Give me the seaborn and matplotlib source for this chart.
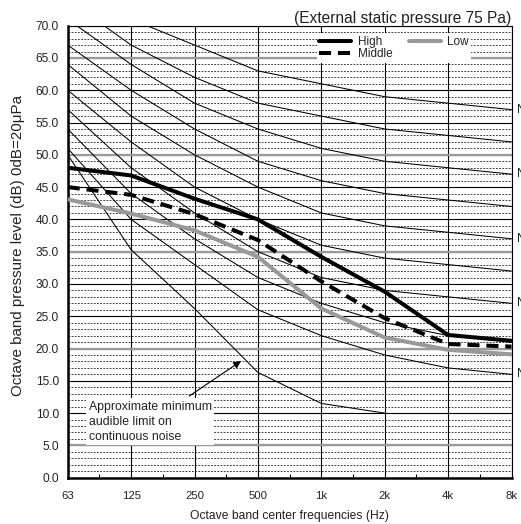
import numpy as np
import pandas as pd
import matplotlib
matplotlib.use("Agg")
import matplotlib.pyplot as plt
import seaborn as sns

# ---------------- data ----------------
freq_labels = ["63", "125", "250", "500", "1k", "2k", "4k", "8k"]

high = [48.0, 46.8, 43.2, 40.0, 34.2, 28.8, 22.1, 21.2]
middle = [45.0, 43.8, 40.8, 36.8, 30.4, 24.7, 20.7, 20.3]
low = [43.1, 40.9, 38.3, 34.2, 26.2, 21.7, 19.8, 19.1]

nc_names = ["NC-60", "NC-55", "NC-50", "NC-45", "NC-40", "NC-35", "NC-30", "NC-25", "NC-20"]
nc_60 = [77, 71, 67, 63, 61, 59, 58, 57]
nc_55 = [74, 67, 62, 58, 56, 54, 53, 52]
nc_50 = [71, 64, 58, 54, 51, 49, 48, 47]
nc_45 = [67, 60, 54, 49, 46, 44, 43, 42]
nc_40 = [64, 56, 50, 45, 41, 39, 38, 37]
nc_35 = [60, 52, 45, 40, 36, 34, 33, 32]
nc_30 = [57, 48, 41, 35, 31, 29, 28, 27]
nc_25 = [54, 44, 37, 31, 27, 24, 22, 21]
nc_20 = [51, 40, 33, 26, 22, 19, 17, 16]
nc_values = [nc_60, nc_55, nc_50, nc_45, nc_40, nc_35, nc_30, nc_25, nc_20]
nc_labelled = ["NC-60", "NC-50", "NC-40", "NC-30", "NC-20"]

audible_labels = ["63", "125", "250", "500", "1k", "2k"]
audible = [50.0, 35.3, 26.2, 16.3, 11.5, 10.0]

series_names = ["High", "Middle", "Low"]
title_text = "(External static pressure 75 Pa)"
note_text = "Approximate minimum\naudible limit on\ncontinuous noise"

# ---------------- style ----------------
sns.set_theme(style="white")
plt.rcParams["font.family"] = ["Liberation Sans", "DejaVu Sans"]
plt.rcParams["axes.unicode_minus"] = False

TXT = "#222222"

fig = plt.figure(figsize=(5.21, 5.24), dpi=100)
ax = fig.add_axes([0.130, 0.0884, 0.8518, 0.8626])

xpos = {lab: i for i, lab in enumerate(freq_labels)}

# grid
ax.set_xlim(0, 7)
ax.set_ylim(0, 70)
ax.set_yticks(np.arange(0, 70.1, 5))
ax.set_yticks(np.arange(0, 70.1, 1), minor=True)
ax.set_xticks(range(len(freq_labels)))
ax.set_xticks(np.arange(0.5, 7, 1), minor=True)
ax.grid(which="minor", axis="y", color="#222222", linestyle=(0, (2.2, 1.6)), linewidth=0.6, zorder=0)
ax.grid(which="major", axis="y", color="black", linestyle="-", linewidth=0.8, zorder=0.5)
ax.grid(which="major", axis="x", color="black", linestyle="-", linewidth=0.8, zorder=0.5)
for yv in [5, 20, 35, 50, 65]:
    ax.axhline(yv, color="#9a9a9a", linewidth=1.6, zorder=0.6)
ax.set_axisbelow(True)

# NC curves
for name, vals in zip(nc_names, nc_values):
    d = pd.DataFrame({"x": [xpos[f] for f in freq_labels], "y": vals})
    sns.lineplot(data=d, x="x", y="y", ax=ax, color="black", linewidth=0.75, legend=False, zorder=1)
    if name in nc_labelled:
        ax.text(7.09, vals[-1], name, fontsize=8.6, va="center", ha="left", color=TXT, clip_on=False)

# audible limit curve
da = pd.DataFrame({"x": [xpos[f] for f in audible_labels], "y": audible})
sns.lineplot(data=da, x="x", y="y", ax=ax, color="black", linewidth=0.75, legend=False, zorder=1)

# series
styles = {"High": dict(color="black", lw=2.9),
          "Middle": dict(color="black", lw=2.9),
          "Low": dict(color="#999999", lw=2.9)}
for name, vals in zip(series_names, [high, middle, low]):
    d = pd.DataFrame({"x": range(len(freq_labels)), "y": vals})
    sns.lineplot(data=d, x="x", y="y", ax=ax, color=styles[name]["color"],
                 linewidth=styles[name]["lw"], label=name, zorder=3)
    if name == "Middle":
        ax.lines[-1].set_dashes([3.0, 1.7])

leg = ax.legend(loc="upper left", bbox_to_anchor=(0.561, 0.983), ncol=2, fontsize=8.5,
                frameon=True, fancybox=False, edgecolor="none", facecolor="white", framealpha=1,
                handlelength=2.7, handletextpad=0.56, columnspacing=1.4, labelspacing=0.05,
                borderpad=0.2, borderaxespad=0)
leg.set_zorder(5)
for t in leg.get_texts():
    t.set_color(TXT)

# annotation
ax.text(0.33, 11.95, note_text, fontsize=8.8, ha="left", va="top", color=TXT,
        linespacing=1.35, zorder=4,
        bbox=dict(boxstyle="square,pad=0.2", facecolor="white", edgecolor="none"))
ax.annotate("", xy=(2.77, 18.3), xytext=(1.88, 12.4),
            arrowprops=dict(arrowstyle="-|>", color="black", lw=0.8, mutation_scale=11), zorder=4)

# axes cosmetics
ax.set_xticklabels(freq_labels)
ax.set_yticklabels([f"{v:.1f}" for v in np.arange(0, 70.1, 5)])
ax.tick_params(axis="both", which="major", length=0, labelcolor=TXT)
ax.tick_params(axis="x", which="major", pad=9.5, labelsize=8.2)
ax.tick_params(axis="y", which="major", pad=6.5, labelsize=8.6)
ax.tick_params(axis="x", which="minor", direction="in", length=3, width=0.8, color="black", bottom=True)
ax.tick_params(axis="y", which="minor", length=0)

for side in ["left", "bottom"]:
    ax.spines[side].set_color("black")
    ax.spines[side].set_linewidth(1.8)
for side in ["top", "right"]:
    ax.spines[side].set_color("black")
    ax.spines[side].set_linewidth(0.8)
    ax.spines[side].set_visible(True)

ax.set_xlabel("Octave band center frequencies (Hz)", fontsize=8.7, color=TXT)
ax.set_ylabel("Octave band pressure level (dB) 0dB=20\u03bcPa", fontsize=10.9, color=TXT)
ax.xaxis.set_label_coords(0.5, -0.072)
ax.yaxis.set_label_coords(-0.097, 0.513)

fig.text(511 / 521, 1 - 23.0 / 524, title_text, fontsize=11.2, ha="right", va="baseline", color=TXT)

fig.savefig("out.png", dpi=100)
